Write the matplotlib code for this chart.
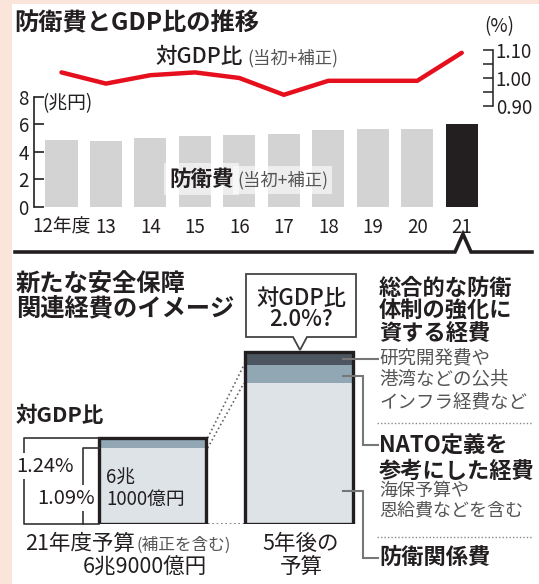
import matplotlib
matplotlib.use('Agg')
import matplotlib.pyplot as plt
import matplotlib.transforms as mtransforms
from matplotlib.patches import Rectangle, Polygon

plt.rcParams['font.family'] = ['Noto Sans CJK JP', 'DejaVu Sans']

# ---------------- data ----------------
years = ['12年度', '13', '14', '15', '16', '17', '18', '19', '20', '21']
defense_budget = [4.88, 4.80, 5.00, 5.13, 5.20, 5.30, 5.58, 5.63, 5.65, 6.05]   # 兆円
gdp_ratio = [1.02, 0.98, 1.01, 1.02, 1.00, 0.94, 0.99, 0.99, 0.99, 1.09]        # %
left_ticks = [0, 2, 4, 6, 8]
right_ticks = [0.90, 1.00, 1.10]
right_minor = [0.95, 1.05]

budget_cats = ['21年度予算', '5年後の予算']
defense_related = [6.1, 11.3]   # 防衛関係費 (schematic)
nato_based = [0.8, 1.45]        # NATO定義を参考にした経費
comprehensive = [0.0, 1.05]     # 総合的な防衛体制の強化に資する経費

INK = '#231f20'
GRAY_TXT = '#555555'
W, H = 539, 584

fig = plt.figure(figsize=(W / 100, H / 100), dpi=100)
fig.patch.set_facecolor('#fbe4da')

# background (white panel on pink)
ax_bg = fig.add_axes([0, 0, 1, 1], zorder=0)
ax_bg.set_xlim(0, W); ax_bg.set_ylim(H, 0); ax_bg.axis('off')
ax_bg.add_patch(Rectangle((12, 4), W - 12, H - 4, fc='white', ec='none'))

def fr(px_left, px_top, px_right, px_bottom):
    return [px_left / W, 1 - px_bottom / H, (px_right - px_left) / W, (px_bottom - px_top) / H]

# ---------------- top chart ----------------
c0, step = 61.5, 44.47
ax_left_px, ax_right_px, ax_top_px, ax_bot_px = 34.4, 493, 40, 206.9
ax1 = fig.add_axes(fr(ax_left_px, ax_top_px, ax_right_px, ax_bot_px), zorder=1)
ax1.patch.set_alpha(0)
x = list(range(len(years)))
ax1.set_xlim(-(c0 - ax_left_px) / step, (ax_right_px - c0) / step)
ppu = 13.75
ax1.set_ylim(0, (ax_bot_px - ax_top_px) / ppu)
bar_colors = ['#d3d3d3'] * (len(years) - 1) + [INK]
ax1.bar(x, defense_budget, width=0.72, color=bar_colors, zorder=2)
for s in ['top', 'bottom', 'right']:
    ax1.spines[s].set_visible(False)
ax1.spines['left'].set_bounds(0, 8)
ax1.spines['left'].set_color(INK)
ax1.spines['left'].set_linewidth(1.2)
ax1.set_yticks(left_ticks)
ax1.tick_params(axis='y', direction='in', length=7, width=1.2, pad=4,
                labelsize=13.5, colors=INK)
ax1.set_xticks(x, years)
ax1.tick_params(axis='x', length=0, pad=7, labelsize=13.5, colors=INK)

ax2 = ax1.twinx()
y110_px, px_per_pct = 50, 280.0
ax2.set_ylim(1.10 - (ax_bot_px - y110_px) / px_per_pct, 1.10 + (y110_px - ax_top_px) / px_per_pct)
ax2.plot(x, gdp_ratio, color='#e60f1e', lw=3.2, solid_capstyle='round', zorder=3)
for s in ['top', 'bottom', 'left']:
    ax2.spines[s].set_visible(False)
ax2.spines['right'].set_bounds(0.90, 1.10)
ax2.spines['right'].set_color(INK)
ax2.spines['right'].set_linewidth(1.1)
ax2.set_yticks(right_ticks, ['%.2f' % v for v in right_ticks])
ax2.set_yticks(right_minor, minor=True)
ax2.tick_params(axis='y', which='both', direction='in', length=7, width=1.1,
                pad=2, labelsize=13.5, colors=INK)

# ---------------- bottom bars ----------------
bc0, bc1, bstep = 152.5, 299.0, 146.5
b_left_px, b_right_px, b_top_px, b_bot_px = 60, 400, 330, 524
bppu = 12.46
ax3 = fig.add_axes(fr(b_left_px, b_top_px, b_right_px, b_bot_px), zorder=2)
ax3.patch.set_alpha(0)
ax3.set_xlim(-(bc0 - b_left_px) / bstep, (b_right_px - bc0) / bstep)
ax3.set_ylim(0, (b_bot_px - b_top_px) / bppu)
ax3.axis('off')
bx = [0, 1]
bw = 0.733
mid_bottom = defense_related
top_bottom = [a + b for a, b in zip(defense_related, nato_based)]
totals = [a + b + c for a, b, c in zip(defense_related, nato_based, comprehensive)]
ax3.bar(bx, defense_related, width=bw, color='#dde3e7', zorder=1)
ax3.bar(bx, nato_based, bottom=mid_bottom, width=bw, color='#91a8b4', zorder=1)
ax3.bar(bx, comprehensive, bottom=top_bottom, width=bw, color='#4b5660', zorder=1)
ax3.bar(bx, totals, width=bw, fill=False, edgecolor=INK, lw=2.4, zorder=3)
# dotted connectors
dot_kw = dict(color='#666666', lw=1.2, ls=(0, (1, 1.6)), zorder=2)
ax3.plot([bw / 2 + 0.01, 1 - bw / 2 - 0.01], [totals[0], top_bottom[1]], **dot_kw)
ax3.plot([bw / 2 + 0.01, 1 - bw / 2 - 0.01], [defense_related[0], defense_related[1]], **dot_kw)
ax3.plot([bw / 2 + 0.01, 1 - bw / 2 - 0.01], [0, 0], **dot_kw)

# ---------------- overlay (annotations) ----------------
ax_o = fig.add_axes([0, 0, 1, 1], zorder=5)
ax_o.patch.set_alpha(0)
ax_o.set_xlim(0, W); ax_o.set_ylim(H, 0); ax_o.axis('off')

def T(x, y, s, size, color=INK, weight='normal', ha='left', va='center', **kw):
    return ax_o.text(x, y, s, fontsize=size, color=color, fontweight=weight,
                     ha=ha, va=va, **kw)

# top texts
T(14, 23, '防衛費とGDP比の推移', 17.5, weight='bold')
T(155, 57, '対GDP比', 15.5, weight='medium')
T(247, 58, '(当初+補正)', 12.5, color=GRAY_TXT)
T(42, 104, '(兆円)', 13.5)
T(484, 27, '(%)', 13.5)
wb = dict(boxstyle='square,pad=0.25', fc='white', ec='none', alpha=0.6)
T(169, 179, '防衛費', 15.5, weight='bold', bbox=wb)
T(237, 180, '(当初+補正)', 12.5, color=GRAY_TXT, bbox=wb)

# separator with caret
ax_o.plot([15, 455, 463, 471, 532], [252, 252, 234, 252, 252], color=INK, lw=2.6,
          solid_joinstyle='miter')

# bottom headings
T(16, 284, '新たな安全保障', 17.5, weight='bold')
T(16, 308, '関連経費のイメージ', 17.5, weight='bold')
T(16, 416, '対GDP比', 15.5, weight='bold')

# callout
ax_o.add_patch(Polygon([(246, 274), (356, 274), (356, 337), (307, 337), (300, 350),
                        (293, 337), (246, 337)], closed=True, fc='white', ec='#444444', lw=1.3))
T(301, 298, '対GDP比', 16, ha='center', weight='medium')
T(301, 319, '2.0%?', 16, ha='center', weight='medium')

# brackets (x in overlay pixels, y in bar data)
blend = mtransforms.blended_transform_factory(ax_o.transData, ax3.transData)
br_kw = dict(color='#333333', lw=1.2, transform=blend, zorder=1)
ax_o.plot([99, 24, 24, 99], [totals[0], totals[0], 0, 0], **br_kw)
ax_o.plot([99, 83, 83], [defense_related[0], defense_related[0], 0], **br_kw)
wbox = dict(boxstyle='square,pad=0.1', fc='white', ec='none')
T(16, 466, '1.24%', 14.5, bbox=wbox)
T(95, 498, '1.09%', 14.5, ha='right', bbox=wbox)
T(106, 478, '6兆', 13.5)
T(106, 499, '1000億円', 13.5)

T(25, 544, '21年度予算', 15.5)
T(137, 545, '(補正を含む)', 12, color=GRAY_TXT)
T(145, 568, '6兆9000億円', 15.5, ha='center')
T(301, 544, '5年後の', 15.5, ha='center')
T(301, 567, '予算', 15.5, ha='center')

# leaders
ld = dict(color='#777777', lw=1.5, solid_joinstyle='miter')
ax_o.plot([343, 378], [359, 359], **ld)
ax_o.plot([343, 363, 363, 378], [376, 376, 445, 445], **ld)
ax_o.plot([343, 363, 363, 378], [491, 491, 558, 558], **ld)
ax_o.plot([377, 532], [423, 423], color='#888888', lw=1, ls=(0, (1, 1.5)))
ax_o.plot([377, 532], [537, 537], color='#888888', lw=1, ls=(0, (1, 1.5)))

T(379, 288, '総合的な防衛', 16, weight='bold')
T(379, 311, '体制の強化に', 16, weight='bold')
T(379, 333, '資する経費', 16, weight='bold')
T(379, 358, '研究開発費や', 13.3, color=GRAY_TXT)
T(379, 380, '港湾などの公共', 13.3, color=GRAY_TXT)
T(379, 402, 'インフラ経費など', 13.3, color=GRAY_TXT)
T(379, 446, 'NATO定義を', 16, weight='bold')
T(379, 471, '参考にした経費', 16, weight='bold')
T(379, 491, '海保予算や', 13, color=GRAY_TXT)
T(379, 510, '恩給費などを含む', 13, color=GRAY_TXT)
T(379, 557, '防衛関係費', 16, weight='bold')

fig.savefig('out.png', dpi=100, facecolor=fig.get_facecolor())
